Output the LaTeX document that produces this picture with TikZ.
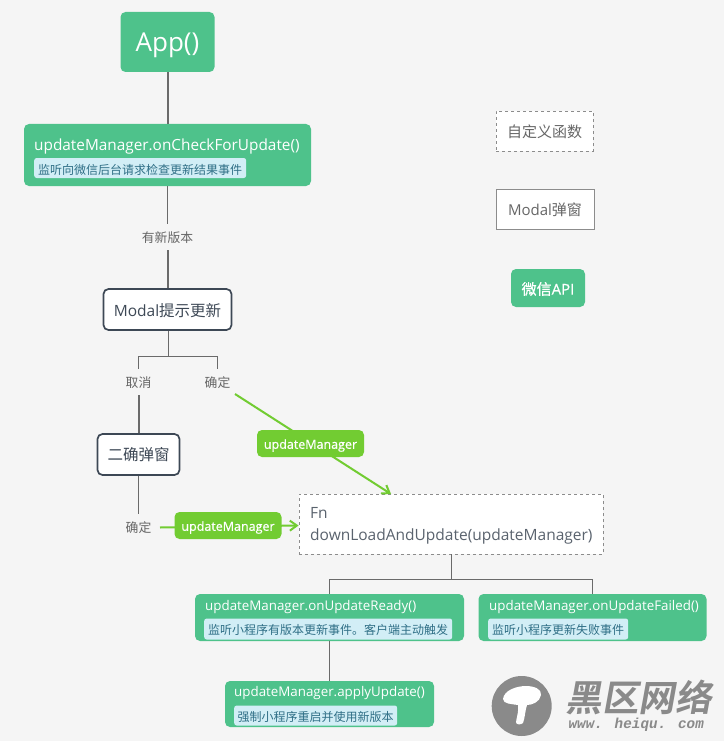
\documentclass[tikz,border=0pt]{standalone}
\usepackage{fontspec}
\setmainfont{Open Sans}
\newfontfamily\heavy{Open Sans}[FakeBold=0.6]
\newfontfamily\cjk{Noto Sans CJK SC}
\newfontfamily\cjkheavy{Noto Sans CJK SC}[FakeBold=0.6]
\newfontfamily\wmcjk{Noto Sans CJK SC Bold}[FakeSlant=0.18]
\newfontfamily\wmmono{Liberation Mono Bold}[FakeSlant=0.18]
\definecolor{bgc}{HTML}{F5F5F5}
\definecolor{apigreen}{HTML}{4EC28B}
\definecolor{tagblue}{HTML}{D2EEF6}
\definecolor{tagtext}{HTML}{2F6F86}
\definecolor{darkedge}{HTML}{3D4855}
\definecolor{linegray}{HTML}{6A6A6A}
\definecolor{labgray}{HTML}{666666}
\definecolor{brightgreen}{HTML}{72CC32}
\definecolor{wmgray}{HTML}{8A8A8A}
\newcommand{\dropby}[2]{\raisebox{-#1}[\height][\depth]{#2}}
\tikzset{
  apibox/.style={fill=apigreen,rounded corners=5pt,inner sep=0pt,text=white},
  apititle/.style={text=white,font=\fontsize{15.35}{18}\selectfont,inner sep=0pt,anchor=west},
  subtitle/.style={text=white,font=\fontsize{13.35}{17}\selectfont,inner sep=0pt,anchor=west},
  tagbox/.style={fill=tagblue,rounded corners=2.5pt,text=tagtext,font=\cjk\fontsize{12}{15}\selectfont,inner sep=0pt,minimum height=20pt,anchor=west,align=center},
  modalbox/.style={fill=white,draw=darkedge,line width=1.7pt,rounded corners=5pt,inner sep=0pt,text=darkedge,font=\fontsize{15.5}{18}\selectfont},
  condlabel/.style={text=labgray,font=\cjk\fontsize{12.8}{15}\selectfont,inner sep=0pt,minimum height=26pt},
  conn/.style={draw=linegray,line width=1pt},
  thickconn/.style={draw=linegray,line width=2pt},
  greenconn/.style={draw=brightgreen,line width=2pt,-{Straight Barb[length=7pt,width=10pt]}},
  paramtag/.style={fill=brightgreen,rounded corners=5pt,text=white,font=\heavy\fontsize{12.5}{15}\selectfont,inner sep=0pt,minimum width=107pt,minimum height=27pt},
  legenddash/.style={fill=white,draw=gray!90,dashed,line width=.9pt,inner sep=0pt,text=labgray,font=\cjk\fontsize{15}{17}\selectfont},
  legendsolid/.style={fill=white,draw=gray!90,line width=.9pt,inner sep=0pt,text=labgray,font=\fontsize{15}{17}\selectfont},
}
\usetikzlibrary{arrows.meta}
\begin{document}
\begin{tikzpicture}[x=1pt,y=-1pt]
\path[fill=bgc] (0,0) rectangle (724,741);
\useasboundingbox (0,0) rectangle (724,741);

\node[apibox,minimum width=94pt,minimum height=60pt,font=\fontsize{26}{30}\selectfont] (app) at (167.5,42) {\dropby{3.5pt}{App()}};
\node[apibox,minimum width=287pt,minimum height=62pt] (check) at (167.5,155) {};
\node[apititle] (checkt) at (34,146.5) {updateManager.onCheckForUpdate()};
\node[tagbox,minimum width=212pt] (checks) at (34,168) {\dropby{1.5pt}{监听向微信后台请求检查更新结果事件}};
\node[condlabel] (hasnew) at (167.5,237) {\dropby{1pt}{有新版本}};
\node[modalbox,minimum width=128pt,minimum height=41pt] (modal) at (167.5,309.5) {\dropby{1pt}{Modal{\cjk 提示更新}}};
\coordinate (split) at (168.5,356.5);
\node[condlabel] (cancel) at (138.5,382) {\dropby{1pt}{取消}};
\node[condlabel] (ok) at (217.5,382) {\dropby{1pt}{确定}};
\node[modalbox,minimum width=82pt,minimum height=41pt,font=\cjk\fontsize{15.5}{18}\selectfont] (second) at (138.5,454.5) {二确弹窗};
\node[condlabel] (ok2) at (138.5,527) {\dropby{1pt}{确定}};
\node[fill=white,draw=gray!90,dashed,line width=.9pt,minimum width=304pt,minimum height=60pt,inner sep=0pt] (fn) at (451,524) {};
\node[text=darkedge!85,font=\fontsize{15.5}{21.5}\selectfont,inner sep=0pt,anchor=west,align=left] (fnt) at (310,526) {Fn\\downLoadAndUpdate(updateManager)};
\coordinate (split2) at (451.5,579.5);
\node[apibox,minimum width=269pt,minimum height=47pt] (ready) at (329.5,617.5) {};
\node[subtitle] (readyt) at (205,607.5) {updateManager.onUpdateReady()};
\node[tagbox,minimum width=248pt,minimum height=21pt] (readys) at (204,629) {\dropby{1pt}{监听小程序有版本更新事件。客户端主动触发}};
\node[apibox,minimum width=228pt,minimum height=47pt] (failed) at (592.5,617.5) {};
\node[subtitle] (failedt) at (489,607.5) {updateManager.onUpdateFailed()};
\node[tagbox,minimum width=140pt,minimum height=21pt] (faileds) at (488,629) {\dropby{1pt}{监听小程序更新失败事件}};
\node[apibox,minimum width=209pt,minimum height=46pt] (apply) at (329.5,704) {};
\node[subtitle] (applyt) at (234,693.5) {updateManager.applyUpdate()};
\node[tagbox,minimum width=163pt,minimum height=20pt] (applys) at (234,715.5) {\dropby{1pt}{强制小程序重启并使用新版本}};

\draw[thickconn] (app.south) -- (check.north);
\draw[conn] (check.south) -- (hasnew.north);
\draw[thickconn] (hasnew.south) -- (modal.north);
\draw[conn] (split |- modal.south) -- (split);
\draw[conn] (split) -| (cancel.north);
\draw[conn] (split) -| (ok.north);
\draw[thickconn] (cancel.south) -- (second.north);
\draw[conn] (second.south) -- (ok2.north);
\coordinate (okgo) at (235,394);
\coordinate (fnin) at (391,494);
\draw[greenconn] (okgo) -- (fnin);
\node[paramtag] (tag1) at (310.5,443.5) {\dropby{2pt}{updateManager}};
\coordinate (ok2go) at (160,527.5);
\draw[greenconn] (ok2go) -- (fn.west |- 0,525.5);
\node[paramtag] (tag2) at (228,525.5) {\dropby{2pt}{updateManager}};
\draw[conn] (fn.south -| split2) -- (split2);
\draw[conn] (split2) -| (ready.north);
\draw[conn] (split2) -| (failed.north);
\draw[conn] (ready.south) -- (apply.north);

% legend
\node[legenddash,minimum width=97pt,minimum height=40pt] (leg1) at (544.5,131) {\dropby{.5pt}{自定义函数}};
\node[legendsolid,minimum width=98pt,minimum height=40pt] (leg2) at (545,209) {\dropby{1pt}{Modal{\cjk 弹窗}}};
\node[apibox,minimum width=74pt,minimum height=38pt,font=\heavy\fontsize{15}{17}\selectfont] (leg3) at (548,288) {\dropby{1pt}{{\cjkheavy 微信}API}};

% watermark
\fill[wmgray] (521.7,706) circle (30);
\fill[white] (503,699) .. controls (504,690) and (517,686) .. (526,686)
  .. controls (534,686) and (542,689) .. (541,695)
  .. controls (540,702) and (532,705) .. (527,705)
  .. controls (525,711) and (525,718) .. (523,723)
  .. controls (521,725) and (516,725) .. (516,722)
  .. controls (517,716) and (519,710) .. (518,705)
  .. controls (512,704) and (503,704) .. (503,699) -- cycle;
\node[text=wmgray,font=\wmcjk\fontsize{36.5}{40}\selectfont,inner sep=0pt] (wm1) at (638.5,697) {黑区网络};
\node[text=wmgray,font=\wmmono\fontsize{14.4}{18}\selectfont,inner sep=0pt] (wm2) at (635.5,725) {www. heiqu. com};
\end{tikzpicture}
\end{document}
